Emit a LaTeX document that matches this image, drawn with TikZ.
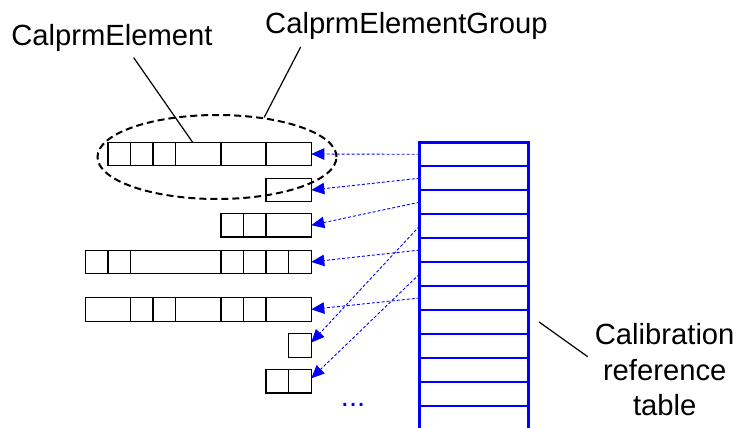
\documentclass[tikz,border=0pt]{standalone}
\usepackage{fontspec}
\setmainfont{Liberation Sans}
\usepackage{tikz}
\usetikzlibrary{calc,positioning,arrows.meta,shapes.geometric}

\tikzset{
  cell/.style={draw=black, line width=1.3pt, anchor=west, minimum height=23.5pt, inner sep=0pt, outer sep=0pt},
  tabrow/.style={draw=blue, line width=2.4pt, minimum width=109pt, minimum height=23.95pt, inner sep=0pt, outer sep=0pt},
  link/.style={draw=blue, line width=0.9pt, dash pattern=on 3pt off 2pt, -{Triangle[length=13pt,width=11.5pt]}},
  lbl/.style={font=\fontsize{29.2}{35.5}\selectfont, inner sep=0pt}
}

\begin{document}
\begin{tikzpicture}[x=1pt,y=-1pt]
\useasboundingbox (0,0) rectangle (737,428);

% element rows (grid of 22.6)
\foreach \k/\w in {1/1,2/1,3/1,4/2,6/2,8/2}
  \node[cell, minimum width=\w*22.6pt] (a\k) at ({85.3+\k*22.6},154) {};
\foreach \k/\w in {8/2}
  \node[cell, minimum width=\w*22.6pt] (b\k) at ({85.3+\k*22.6},190) {};
\foreach \k/\w in {6/1,7/1,8/2}
  \node[cell, minimum width=\w*22.6pt] (c\k) at ({85.3+\k*22.6},225.2) {};
\foreach \k/\w in {0/1,1/1,2/4,6/1,7/1,8/1,9/1}
  \node[cell, minimum width=\w*22.6pt] (d\k) at ({85.3+\k*22.6},261.9) {};
\foreach \k/\w in {0/2,2/1,3/1,4/2,6/1,7/1,8/2}
  \node[cell, minimum width=\w*22.6pt] (e\k) at ({85.3+\k*22.6},309.4) {};
\foreach \k/\w in {9/1}
  \node[cell, minimum width=\w*22.6pt] (f\k) at ({85.3+\k*22.6},345.5) {};
\foreach \k/\w in {8/1,9/1}
  \node[cell, minimum width=\w*22.6pt] (g\k) at ({85.3+\k*22.6},381.3) {};

% the group
\node[ellipse, draw, line width=2pt, dash pattern=on 7pt off 4pt,
  minimum width=239pt, minimum height=84pt] (grp) at (217,157) {};

% reference table
\foreach \i in {0,...,11}
  \node[tabrow] (t\i) at (474,{154.3+\i*23.95}) {};

\draw[link] (t0.west) -- (a8.east);
\draw[link] (t1.west) -- (b8.east);
\draw[link] (t2.west) -- (c8.east);
\draw[link] (t3.west) -- ([yshift=3pt]f9.east);
\draw[link] (t4.west) -- (d9.east);
\draw[link] (t5.west) -- ([yshift=3pt]g9.east);
\draw[link] (t6.west) -- (e8.east);

\node[lbl, text=blue, anchor=base west] (dots) at (340.7,406) {...};

% labels
\node[lbl, anchor=base west] (elemlbl) at (11.2,45.7) {CalprmElement};
\node[lbl, anchor=base west] (grplbl) at (265,33.3) {CalprmElementGroup};
\node[lbl, align=center] (tablbl) at (664.7,370) {Calibration\\reference\\table};

\draw[line width=1.2pt] ([xshift=21.6pt,yshift=-5.6pt]elemlbl.south) -- ([xshift=-5.7pt]a4.north);
\draw[line width=1.2pt] ([xshift=35.7pt,yshift=-7.4pt]grplbl.south west) -- (grp.40);
\draw[line width=1.2pt] ([xshift=10.5pt]t7.east) -- ([xshift=-7pt,yshift=13.3pt]tablbl.west);
\end{tikzpicture}
\end{document}
